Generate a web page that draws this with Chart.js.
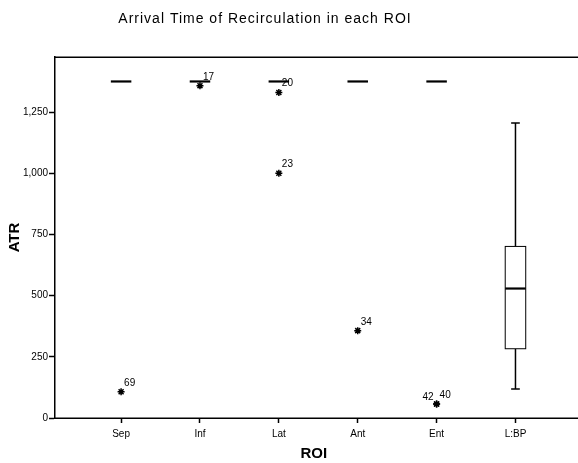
<!DOCTYPE html>
<html>
<head>
<meta charset="utf-8">
<script src="https://cdn.jsdelivr.net/npm/chart.js@4"></script>
<style>
  html, body { margin: 0; padding: 0; background: #fff; overflow: hidden; }
  #wrap { width: 578px; height: 463px; }
</style>
</head>
<body>
<div id="wrap"><canvas id="chart"></canvas></div>
<script>
const categories = ['Sep', 'Inf', 'Lat', 'Ant', 'Ent', 'L:BP'];
const boxMin    = [1375, 1375, 1375, 1375, 1375, 119];
const boxQ1     = [1375, 1375, 1375, 1375, 1375, 283];
const boxMedian = [1375, 1375, 1375, 1375, 1375, 529];
const boxQ3     = [1375, 1375, 1375, 1375, 1375, 701];
const boxMax    = [1375, 1375, 1375, 1375, 1375, 1205];

// outliers: category index, value, case label
const outlierCat   = [0, 1, 2, 2, 3, 4, 4];
const outlierValue = [107, 1358, 1330, 1000, 357, 57, 57];
const outlierLabel = ['69', '17', '20', '23', '34', '42', '40'];

const yTicks = [0, 250, 500, 750, 1000, 1250];
const FONT = "'Liberation Sans', Arial, sans-serif";

const boxPlugin = {
  id: 'boxes',
  afterDatasetsDraw(chart) {
    const ctx = chart.ctx;
    const xs = chart.scales.x, ys = chart.scales.y;
    const unit = xs.getPixelForValue(2) - xs.getPixelForValue(1);
    const half = unit * 0.13;
    const cap = unit * 0.055;
    ctx.save();
    ctx.strokeStyle = '#000';
    categories.forEach((c, i) => {
      const x = xs.getPixelForValue(i + 1);
      const yMin = ys.getPixelForValue(boxMin[i]);
      const yQ1 = ys.getPixelForValue(boxQ1[i]);
      const yMed = ys.getPixelForValue(boxMedian[i]);
      const yQ3 = ys.getPixelForValue(boxQ3[i]);
      const yMax = ys.getPixelForValue(boxMax[i]);
      if (boxQ1[i] !== boxQ3[i]) {
        // whiskers
        ctx.lineWidth = 1.5;
        ctx.beginPath();
        ctx.moveTo(x, yQ3); ctx.lineTo(x, yMax);
        ctx.moveTo(x, yQ1); ctx.lineTo(x, yMin);
        ctx.moveTo(x - cap, yMax); ctx.lineTo(x + cap, yMax);
        ctx.moveTo(x - cap, yMin); ctx.lineTo(x + cap, yMin);
        ctx.stroke();
        ctx.fillStyle = '#fff';
        ctx.fillRect(x - half, yQ3, half * 2, yQ1 - yQ3);
        ctx.lineWidth = 1;
        ctx.strokeRect(x - half, yQ3, half * 2, yQ1 - yQ3);
      }
      ctx.lineWidth = 2.2;
      ctx.beginPath();
      ctx.moveTo(x - half, yMed); ctx.lineTo(x + half, yMed);
      ctx.stroke();
    });
    // case labels next to outliers
    ctx.fillStyle = '#000';
    ctx.font = '10px ' + FONT;
    ctx.textBaseline = 'alphabetic';
    outlierCat.forEach((c, i) => {
      const x = xs.getPixelForValue(c + 1);
      const y = ys.getPixelForValue(outlierValue[i]);
      const twin = outlierCat[i + 1] === c && outlierValue[i + 1] === outlierValue[i];
      if (twin) {
        ctx.textAlign = 'right';
        ctx.fillText(outlierLabel[i], x - 3, y - 4);
      } else {
        ctx.textAlign = 'left';
        ctx.fillText(outlierLabel[i], x + 3, y - 6);
      }
    });
    // top frame line and bottom axis line, both run to the right edge
    const a = chart.chartArea;
    const align = p => Math.round(p + 0.75) - 0.75;
    ctx.lineWidth = 1.5;
    ctx.beginPath();
    ctx.moveTo(a.left, align(a.top)); ctx.lineTo(chart.width, align(a.top));
    ctx.moveTo(a.left, align(a.bottom)); ctx.lineTo(chart.width, align(a.bottom));
    ctx.stroke();
    // chart title
    ctx.font = '14px ' + FONT;
    ctx.letterSpacing = '1px';
    ctx.textAlign = 'center';
    ctx.textBaseline = 'middle';
    ctx.fillText('Arrival Time of Recirculation in each ROI', 265, 19);
    ctx.restore();
  }
};

new Chart(document.getElementById('chart'), {
  type: 'scatter',
  data: {
    datasets: [{
      label: 'Outliers',
      data: outlierCat.map((c, i) => ({ x: c + 1, y: outlierValue[i] })),
      pointStyle: 'star',
      radius: 3.5,
      borderWidth: 1.5,
      borderColor: '#000',
      backgroundColor: '#000'
    }]
  },
  options: {
    responsive: true,
    maintainAspectRatio: false,
    animation: false,
    layout: { padding: { top: 57, right: 0, left: 0, bottom: 0 } },
    plugins: {
      legend: { display: false },
      tooltip: { enabled: false }
    },
    scales: {
      x: {
        type: 'linear',
        min: 0.162,
        max: 6.723,
        afterBuildTicks: s => { s.ticks = categories.map((c, i) => ({ value: i + 1 })); },
        afterFit: s => { s.height = 45; },
        ticks: {
          callback: v => categories[v - 1],
          color: '#000',
          font: { family: FONT, size: 10 },
          padding: 5,
          maxRotation: 0
        },
        grid: { drawOnChartArea: false, tickLength: 5, color: '#000', tickWidth: 1.5 },
        border: { display: false },
        title: {
          display: true,
          text: 'ROI',
          color: '#000',
          font: { family: FONT, size: 15, weight: 'bold' },
          padding: { top: 4, bottom: 0 }
        }
      },
      y: {
        min: 0,
        max: 1475,
        afterBuildTicks: s => { s.ticks = yTicks.map(v => ({ value: v })); },
        afterFit: s => { s.width = 55; },
        ticks: {
          color: '#000',
          font: { family: FONT, size: 10 },
          padding: 1
        },
        grid: { drawOnChartArea: false, tickLength: 6, color: '#000', tickWidth: 1.5 },
        border: { display: true, color: '#000', width: 1.5 },
        title: {
          display: true,
          text: 'ATR',
          color: '#000',
          font: { family: FONT, size: 15, weight: 'bold' },
          padding: { top: 6, bottom: 0 }
        }
      }
    }
  },
  plugins: [boxPlugin]
});
</script>
</body>
</html>
